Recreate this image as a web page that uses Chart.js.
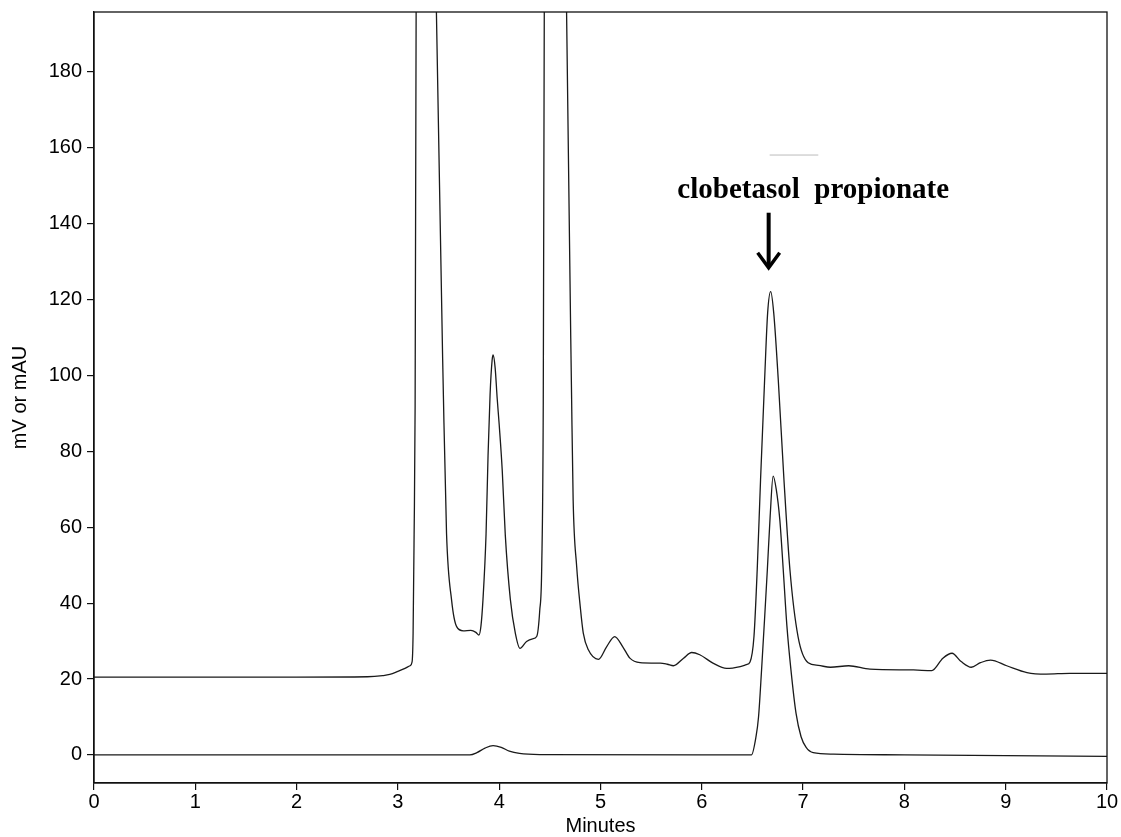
<!DOCTYPE html>
<html>
<head>
<meta charset="utf-8">
<script src="https://cdn.jsdelivr.net/npm/chart.js@4.4.0/dist/chart.umd.min.js"></script>
<style>
  html, body { margin: 0; padding: 0; background: #fff; }
  #wrap { width: 1121px; height: 837px; position: relative; }
</style>
</head>
<body>
<div id="wrap"><canvas id="chroma"></canvas></div>
<script>
// chromatogram traces: [minutes, signal]
// upper trace = sample (offset ~20), lower trace = standard
const upperTrace = [
  [0, 20.5], [1, 20.5], [2, 20.5], [2.7, 20.6], [2.85, 20.9], [2.92, 21.2], [3.0, 22.0], [3.07, 22.8],
  [3.12, 23.5], [3.14, 24.5], [3.15, 32], [3.16, 58], [3.17, 92], [3.18, 196], [3.2, 240], [3.28, 330],
  [3.36, 240], [3.38, 196], [3.45, 93.6], [3.48, 58.4], [3.53, 40.8], [3.58, 33.8], [3.645, 32.7],
  [3.72, 32.8], [3.77, 32.3], [3.8, 31.6], [3.82, 34], [3.84, 41], [3.87, 58], [3.89, 79], [3.91, 95],
  [3.93, 104], [3.94, 105.4], [3.96, 102], [3.98, 94], [4.0, 87], [4.03, 75], [4.06, 58], [4.11, 41],
  [4.16, 32], [4.205, 28.1], [4.27, 29.9], [4.33, 30.6], [4.37, 31.2], [4.4, 38], [4.42, 50], [4.435, 93],
  [4.445, 196], [4.46, 240], [4.55, 330], [4.65, 240], [4.665, 196], [4.715, 93.6], [4.73, 67.2],
  [4.765, 49.6], [4.8, 39.1], [4.83, 32.1], [4.88, 27.7], [4.98, 25.2], [5.06, 28.5], [5.14, 31.2],
  [5.22, 28.5], [5.29, 25.5], [5.39, 24.3], [5.5, 24.2], [5.59, 24.2], [5.66, 23.9], [5.72, 23.5],
  [5.82, 25.5], [5.9, 27.0], [5.98, 26.4], [6.11, 24.2], [6.245, 22.8], [6.38, 23.3], [6.44, 23.8],
  [6.476, 24.5], [6.515, 31.2], [6.547, 48.8], [6.58, 72.5], [6.62, 98.8], [6.65, 116.5], [6.68, 122.1],
  [6.71, 116.5], [6.755, 98.8], [6.81, 73], [6.87, 48.8], [6.95, 31.2], [7.05, 24.3], [7.15, 23.6],
  [7.27, 23.1], [7.45, 23.5], [7.66, 22.6], [8.09, 22.4], [8.27, 22.2], [8.38, 25.5], [8.47, 26.8],
  [8.56, 24.6], [8.66, 23.1], [8.75, 24.3], [8.85, 25], [9.01, 23.5], [9.21, 21.7], [9.4, 21.3],
  [9.63, 21.5], [10, 21.5]
];

const lowerTrace = [
  [0, 0], [3.0, 0], [3.71, 0], [3.78, 0.6], [3.86, 1.8], [3.94, 2.45], [4.02, 2.0], [4.1, 1.0],
  [4.2, 0.4], [4.4, 0.1], [6.0, 0], [6.49, 0], [6.535, 4.8], [6.56, 10], [6.59, 22.4], [6.62, 36],
  [6.647, 48.8], [6.675, 63], [6.704, 73.5], [6.735, 70], [6.77, 62], [6.804, 48.8], [6.84, 34],
  [6.88, 22.4], [6.93, 11], [6.98, 4.8], [7.03, 2.0], [7.1, 0.6], [7.3, 0.2], [8, 0], [9, -0.2], [10, -0.4]
];

const xTicks = [0, 1, 2, 3, 4, 5, 6, 7, 8, 9, 10];
const yTicks = [0, 20, 40, 60, 80, 100, 120, 140, 160, 180];

// peak label
const peakLabel = "clobetasol  propionate";
const labelAt = { x: 7.1, y: 146.8 };
const arrowAt = { x: 6.66, top: 142.9, tip: 128.4 };

const toPoints = arr => arr.map(p => ({ x: p[0], y: p[1] }));

const frameAndLabel = {
  id: "frameAndLabel",
  afterDraw(chart) {
    const { ctx, chartArea: a, scales: { x, y } } = chart;
    ctx.save();
    ctx.strokeStyle = "#111";
    ctx.lineWidth = 1.3;
    ctx.strokeRect(a.left, a.top, a.right - a.left, a.bottom - a.top);

    // faint scan mark above the label
    ctx.strokeStyle = "#bbb";
    ctx.lineWidth = 1;
    ctx.beginPath();
    ctx.moveTo(x.getPixelForValue(6.67), y.getPixelForValue(158.1));
    ctx.lineTo(x.getPixelForValue(7.15), y.getPixelForValue(158.1));
    ctx.stroke();

    ctx.fillStyle = "#000";
    ctx.font = "bold 29px 'Liberation Serif', 'Times New Roman', serif";
    ctx.textAlign = "center";
    ctx.textBaseline = "alphabetic";
    ctx.fillText(peakLabel, x.getPixelForValue(labelAt.x), y.getPixelForValue(labelAt.y));

    // arrow
    const ax = x.getPixelForValue(arrowAt.x);
    const top = y.getPixelForValue(arrowAt.top);
    const tip = y.getPixelForValue(arrowAt.tip);
    ctx.strokeStyle = "#000";
    ctx.lineWidth = 4;
    ctx.beginPath();
    ctx.moveTo(ax, top);
    ctx.lineTo(ax, tip - 2);
    ctx.stroke();
    ctx.lineWidth = 3.5;
    ctx.beginPath();
    ctx.moveTo(ax - 11, tip - 15);
    ctx.lineTo(ax, tip);
    ctx.lineTo(ax + 11, tip - 15);
    ctx.stroke();
    ctx.restore();
  }
};

const lineStyle = {
  borderColor: "#1a1a1a",
  borderWidth: 1.3,
  pointRadius: 0,
  fill: false,
  cubicInterpolationMode: "monotone"
};

new Chart(document.getElementById("chroma"), {
  type: "line",
  data: {
    datasets: [
      { label: "sample", data: toPoints(upperTrace), ...lineStyle },
      { label: "standard", data: toPoints(lowerTrace), ...lineStyle }
    ]
  },
  options: {
    responsive: true,
    maintainAspectRatio: false,
    animation: false,
    layout: { padding: { top: 12, right: 14, left: 0, bottom: 0 } },
    plugins: { legend: { display: false }, tooltip: { enabled: false } },
    scales: {
      x: {
        type: "linear",
        min: 0,
        max: 10,
        afterBuildTicks: s => { s.ticks = xTicks.map(v => ({ value: v })); },
        afterFit: s => { s.height = 54; },
        grid: { drawOnChartArea: false, drawTicks: true, tickLength: 7, color: "#111", lineWidth: 1.2 },
        border: { display: true, color: "#111", width: 1.3 },
        ticks: {
          color: "#000", padding: 0, maxRotation: 0,
          font: { family: "'Liberation Sans', Arial, sans-serif", size: 20 }
        },
        title: {
          display: true, text: "Minutes", color: "#000",
          padding: { top: 0, bottom: 1 },
          font: { family: "'Liberation Sans', Arial, sans-serif", size: 20, lineHeight: 1 }
        }
      },
      y: {
        type: "linear",
        min: -7.4,
        max: 195.8,
        afterBuildTicks: s => { s.ticks = yTicks.map(v => ({ value: v })); },
        afterFit: s => { s.width = 94; s.paddingTop = 0; s.paddingBottom = 0; },
        grid: { drawOnChartArea: false, drawTicks: true, tickLength: 7, color: "#111", lineWidth: 1.2 },
        border: { display: true, color: "#111", width: 1.3 },
        ticks: {
          color: "#000", padding: 5,
          font: { family: "'Liberation Sans', Arial, sans-serif", size: 20 }
        },
        title: {
          display: true, text: "mV or mAU", color: "#000",
          padding: { top: 8, bottom: 0 },
          font: { family: "'Liberation Sans', Arial, sans-serif", size: 20 }
        }
      }
    }
  },
  plugins: [frameAndLabel]
});
</script>
</body>
</html>
